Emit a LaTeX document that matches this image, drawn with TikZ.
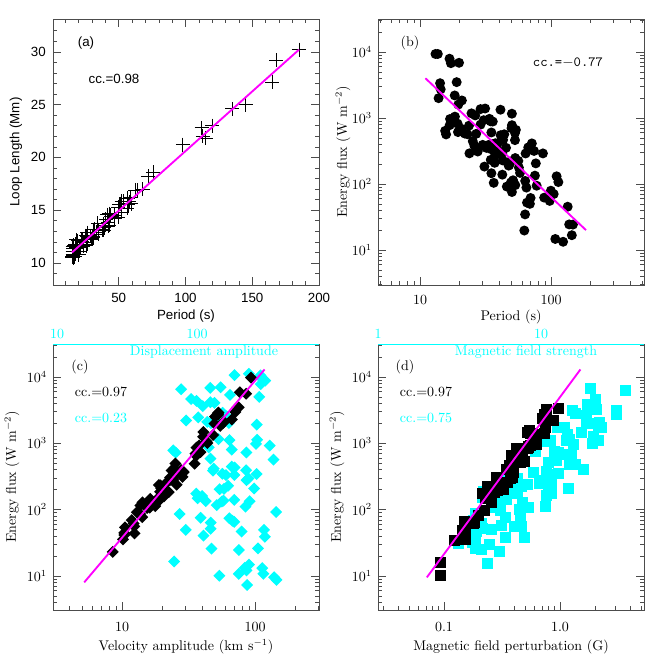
\documentclass[tikz,border=0pt]{standalone}
\usepackage{fontspec}
\setsansfont{Liberation Sans}
\usepackage{tikz}
\definecolor{idlcyan}{RGB}{0,255,255}
\definecolor{idlmag}{RGB}{255,0,255}
\tikzset{frame/.style={draw=black!70,line width=0.5pt},
  tk/.style={draw=black!70,line width=0.4pt},
  fit/.style={draw=idlmag,line width=1.4pt},
  plusmk/.style={draw=black,line width=0.6pt},
  lab/.style={font=\fontsize{10.5}{12}\selectfont,inner sep=0pt},
  slab/.style={font=\sffamily\fontsize{10}{12}\selectfont,inner sep=0pt},
  cyanlab/.style={lab,text=idlcyan}}
\begin{document}
\begin{tikzpicture}[x=0.75pt,y=-0.75pt]
\useasboundingbox[fill=white] (0,0) rectangle (664,664);
\pgfmathsetseed{7}
% panel (a)
\begin{scope}
\clip (53,19) rectangle (319,285);
\foreach \v in {10,20,...,190}{
  \pgfmathsetmacro\px{52+\v*1.335}
  \draw[tk] (\px,285) -- ++(0,-4) (\px,19) -- ++(0,4);}
\foreach \v in {50,100,150}{
  \pgfmathsetmacro\px{52+\v*1.335}
  \draw[tk] (\px,285) -- ++(0,-8) (\px,19) -- ++(0,8);}
\foreach \v in {9,...,32}{
  \pgfmathsetmacro\py{263-(\v-10)*10.56}
  \draw[tk] (53,\py) -- ++(4,0) (319,\py) -- ++(-4,0);}
\foreach \v in {10,15,...,30}{
  \pgfmathsetmacro\py{263-(\v-10)*10.56}
  \draw[tk] (53,\py) -- ++(8,0) (319,\py) -- ++(-8,0);}
\end{scope}
\draw[frame] (53,19) rectangle (319,285);
\foreach \i in {1,...,75}{
  \pgfmathsetmacro\p{15+50*rnd^1.4}
  \pgfmathsetmacro\l{9.3+0.113*\p+1.3*(rnd-0.5)}
  \draw[plusmk] ({52+\p*1.335},{263-(\l-10)*10.56}) +(-7,0) -- +(7,0) +(0,-7) -- +(0,7);}
\foreach \p/\l in {72/18.2,76/18.6,68/17,98/21.2,112/22.8,113/22,115/21.8,120/23,
  135/24.6,145/25,165/27.1,168/29.2,185/30.2,18/12.2,20/10.8,16/10.5}
  \draw[plusmk] ({52+\p*1.335},{263-(\l-10)*10.56}) +(-7,0) -- +(7,0) +(0,-7) -- +(0,7);
\coordinate (fa1) at ({52+15*1.335},{263-(11-10)*10.56});
\coordinate (fa2) at ({52+185*1.335},{263-(30.2-10)*10.56});
\draw[fit] (fa1) -- (fa2);
\foreach \v in {50,100,150,200}
  \node[slab] (ax\v) at ({52+\v*1.335},298) {\v};
\foreach \v in {10,15,20,25,30}
  \node[slab,anchor=east] (ay\v) at (46,{263-(\v-10)*10.56}) {\v};
\node[slab] (axa) at (186,316) {Period (s)};
\node[slab,rotate=90] (aya) at (16,152) {Loop Length (Mm)};
\node[slab] (tagA) at (86,43) {(a)};
\node[slab] (ccA) at (114,79) {cc.=0.98};
% panel (b)
\begin{scope}
\clip (378,19) rectangle (644,285);
\foreach \d in {0,1,2}\foreach \m in {1,...,9}{
  \pgfmathsetmacro\px{289+131*(\d+log10(\m))}
  \pgfmathsetmacro\ln{ifthenelse(\m==1,8,4)}
  \draw[tk] (\px,285) -- ++(0,-\ln) (\px,19) -- ++(0,\ln);}
\foreach \d in {0,1,2,3,4}\foreach \m in {1,...,9}{
  \pgfmathsetmacro\py{52+66*(4-\d-log10(\m))}
  \pgfmathsetmacro\ln{ifthenelse(\m==1,8,4)}
  \draw[tk] (378,\py) -- ++(\ln,0) (644,\py) -- ++(-\ln,0);}
\end{scope}
\draw[frame] (378,19) rectangle (644,285);
\foreach \i in {1,...,110}{
  \pgfmathsetmacro\lp{1.04+1.2*(rnd+rnd)/2}
  \pgfmathsetmacro\le{min(3.97,3.6-1.88*(\lp-1.041)+0.95*(rnd+rnd-1))}
  \fill ({289+131*\lp},{52+66*(4-\le)}) circle (5);}
\coordinate (fb1) at ({289+131*log10(11)},{52+66*(4-log10(4000))});
\coordinate (fb2) at ({289+131*log10(185)},{52+66*(4-log10(20))});
\draw[fit] (fb1) -- (fb2);
\node[lab] (bx1) at (420,300) {10};
\node[lab] (bx2) at (551,300) {100};
\foreach \d in {1,...,4}
  \node[lab,anchor=east] (by\d) at (372,{52+66*(4-\d)}) {10$^{\d}$};
\node[lab] (bxa) at (511,317) {Period (s)};
\node[lab,rotate=90] (bya) at (343,152) {Energy flux (W m$^{-2}$)};
\node[lab] (tagB) at (410,43) {(b)};
\node[lab,font=\ttfamily\fontsize{10.5}{12}\selectfont] (ccB) at (568,63) {cc.=$-$0.77};
% panel (c)
\begin{scope}
\clip (53,344) rectangle (319,610);
\foreach \d in {0,1,2}\foreach \m in {1,...,9}{
  \pgfmathsetmacro\px{122+133*(\d-1+log10(\m))}
  \pgfmathsetmacro\ln{ifthenelse(\m==1,8,4)}
  \draw[tk] (\px,610) -- ++(0,-\ln);}
\foreach \d in {0,1,2,3,4}\foreach \m in {1,...,9}{
  \pgfmathsetmacro\py{377+66.3*(4-\d-log10(\m))}
  \pgfmathsetmacro\ln{ifthenelse(\m==1,8,4)}
  \draw[tk] (53,\py) -- ++(\ln,0) (319,\py) -- ++(-\ln,0);}
\end{scope}
\draw[frame] (53,610) -- (53,344) (319,344) -- (319,610) -- (53,610);
\draw[idlcyan,line width=0.6pt] (53,344) -- (319,344);
\foreach \i in {1,...,90}{
  \pgfmathsetmacro\lx{160+135*(rnd+rnd)/2}
  \pgfmathsetmacro\le{0.85+3.2*rnd^0.8}
  \fill[idlcyan] (\lx,{377+66.3*(4-\le)}) +(-6,0) -- +(0,-6) -- +(6,0) -- +(0,6) -- cycle;}
\foreach \i in {1,...,75}{
  \pgfmathsetmacro\lv{0.70+1.38*(rnd+rnd)/2}
  \pgfmathsetmacro\le{0.9+2.37*(\lv-0.716)+0.35*(rnd-0.5)}
  \fill ({122+133*(\lv-1)},{377+66.3*(4-\le)}) +(-6,0) -- +(0,-6) -- +(6,0) -- +(0,6) -- cycle;}
\coordinate (fc1) at ({122+133*(log10(5.2)-1)},{377+66.3*(4-log10(8))});
\coordinate (fc2) at ({122+133*(log10(118)-1)},{377+66.3*(4-log10(13000))});
\draw[fit] (fc1) -- (fc2);
\node[lab] (cx1) at (122,627) {10};
\node[lab] (cx2) at (255,627) {100};
\node[cyanlab] (ct1) at (57,334) {10};
\node[cyanlab] (ct2) at (197,334) {100};
\foreach \d in {1,...,4}
  \node[lab,anchor=east] (cy\d) at (47,{377+66.3*(4-\d)}) {10$^{\d}$};
\node[lab] (cxa) at (186,647) {Velocity amplitude (km s$^{-1}$)};
\node[lab,rotate=90] (cya) at (12,477) {Energy flux (W m$^{-2}$)};
\node[cyanlab] (cta) at (204,352) {Displacement amplitude};
\node[lab] (tagC) at (80,367) {(c)};
\node[lab] (ccC1) at (101,392) {cc.=0.97};
\node[cyanlab] (ccC2) at (101,418) {cc.=0.23};
% panel (d)
\begin{scope}
\clip (378,344) rectangle (644,610);
\foreach \d in {-2,-1,0}\foreach \m in {1,...,9}{
  \pgfmathsetmacro\px{560+116*(\d+log10(\m))}
  \pgfmathsetmacro\ln{ifthenelse(\m==1,8,4)}
  \draw[tk] (\px,610) -- ++(0,-\ln);}
\foreach \d in {0,1,2,3,4}\foreach \m in {1,...,9}{
  \pgfmathsetmacro\py{377+66.3*(4-\d-log10(\m))}
  \pgfmathsetmacro\ln{ifthenelse(\m==1,8,4)}
  \draw[tk] (378,\py) -- ++(\ln,0) (644,\py) -- ++(-\ln,0);}
\end{scope}
\draw[frame] (378,610) -- (378,344) (644,344) -- (644,610) -- (378,610);
\draw[idlcyan,line width=0.6pt] (378,344) -- (644,344);
\foreach \i in {1,...,95}{
  \pgfmathsetmacro\u{rnd}
  \pgfmathsetmacro\lx{470+140*\u+40*(rnd-0.5)}
  \pgfmathsetmacro\le{1.5+1.9*\u+0.9*(rnd-0.5)}
  \fill[idlcyan] (\lx,{377+66.3*(4-\le)}) +(-5.5,-5.5) rectangle +(5.5,5.5);}
\foreach \i in {1,...,55}{
  \pgfmathsetmacro\lb{-1.15+1.33*(rnd+rnd)/2}
  \pgfmathsetmacro\le{0.9+2.36*(\lb+1.155)+0.4*(rnd-0.5)}
  \fill ({560+116*\lb},{377+66.3*(4-\le)}) +(-5.5,-5.5) rectangle +(5.5,5.5);}
\coordinate (fd1) at ({560+116*log10(0.07)},{377+66.3*(4-log10(9.5))});
\coordinate (fd2) at ({560+116*log10(1.5)},{377+66.3*(4-log10(13000))});
\draw[fit] (fd1) -- (fd2);
\node[lab] (dx1) at (444,627) {0.1};
\node[lab] (dx2) at (560,627) {1.0};
\node[cyanlab] (dt1) at (378,334) {1};
\node[cyanlab] (dt2) at (541,334) {10};
\foreach \d in {1,...,4}
  \node[lab,anchor=east] (dy\d) at (372,{377+66.3*(4-\d)}) {10$^{\d}$};
\node[lab] (dxa) at (511,647) {Magnetic field perturbation (G)};
\node[lab,rotate=90] (dya) at (337,477) {Energy flux (W m$^{-2}$)};
\node[cyanlab] (dta) at (526,352) {Magnetic field strength};
\node[lab] (tagD) at (405,367) {(d)};
\node[lab] (ccD1) at (426,392) {cc.=0.97};
\node[cyanlab] (ccD2) at (426,418) {cc.=0.75};
\end{tikzpicture}
\end{document}
